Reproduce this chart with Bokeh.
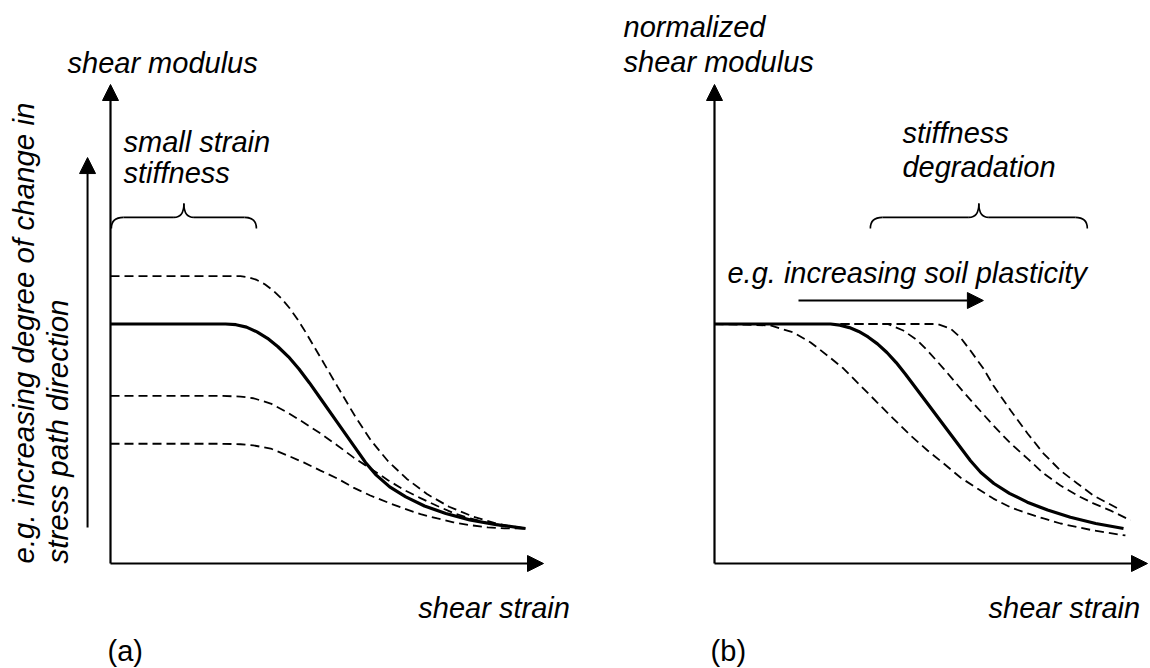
import math

from bokeh.embed import file_html
from bokeh.layouts import row
from bokeh.models import Arrow, Label, NormalHead, Range1d
from bokeh.plotting import figure
from bokeh.resources import INLINE

# ---------------------------------------------------------------------------
# Curve values (strain in arbitrary units 0..10, shear modulus normalised so
# that the reference curve starts at 1.0)
# ---------------------------------------------------------------------------

# (a) influence of the change in stress path direction
a_strain_ref = [0.000, 2.656, 2.898, 3.141, 3.383, 3.626, 3.868, 4.111, 4.353,
                4.596, 4.850, 5.242, 5.612, 5.889, 6.139, 6.448, 6.820, 7.252,
                7.744, 8.296, 8.910, 9.584]
a_G_ref = [1.000, 1.000, 0.997, 0.987, 0.967, 0.940, 0.905, 0.863, 0.812,
           0.754, 0.689, 0.588, 0.493, 0.422, 0.369, 0.320, 0.278, 0.240,
           0.209, 0.182, 0.162, 0.146]

a_strain_high = [0.000, 3.002, 3.189, 3.379, 3.564, 3.753, 3.938, 4.129, 4.314,
                 4.503, 4.850, 5.242, 5.658, 6.014, 6.406, 6.838, 7.309, 7.820,
                 8.370, 8.956, 9.584]
a_G_high = [1.200, 1.200, 1.195, 1.184, 1.166, 1.140, 1.108, 1.068, 1.021,
            0.967, 0.860, 0.739, 0.612, 0.514, 0.428, 0.354, 0.290, 0.237,
            0.196, 0.165, 0.146]

a_strain_mid = [0.00, 2.54, 3.00, 3.30, 3.70, 4.09, 4.46, 4.85, 5.24, 5.61,
                6.00, 6.40, 6.77, 7.16, 7.55, 7.92, 8.31, 8.71, 9.10, 9.58]
a_G_mid = [0.700, 0.700, 0.697, 0.690, 0.668, 0.630, 0.589, 0.543, 0.493,
           0.443, 0.397, 0.349, 0.308, 0.273, 0.240, 0.211, 0.188, 0.169,
           0.156, 0.146]

a_strain_low = [0.00, 2.54, 3.00, 3.30, 3.70, 4.09, 4.46, 4.85, 5.24, 5.61,
                6.00, 6.40, 6.77, 7.16, 7.55, 7.92, 8.31, 8.71, 9.10, 9.58]
a_G_low = [0.500, 0.500, 0.498, 0.493, 0.480, 0.451, 0.422, 0.388, 0.355,
           0.317, 0.284, 0.255, 0.230, 0.206, 0.188, 0.172, 0.160, 0.151,
           0.147, 0.146]

# (b) influence of soil plasticity
b_strain_ref = [0.000, 2.679, 2.896, 3.115, 3.330, 3.547, 3.764, 3.982, 4.196,
                4.411, 4.919, 5.404, 5.912, 6.152, 6.453, 6.811, 7.224, 7.693,
                8.219, 8.804, 9.446]
b_G_ref = [1.000, 1.000, 0.995, 0.985, 0.969, 0.946, 0.917, 0.881, 0.839,
           0.790, 0.668, 0.551, 0.429, 0.380, 0.334, 0.293, 0.256, 0.223,
           0.193, 0.167, 0.146]

b_strain_low = [0.00, 1.29, 1.82, 2.22, 2.61, 2.98, 3.37, 3.76, 4.13, 4.53,
                4.92, 5.29, 5.68, 6.07, 6.44, 6.84, 7.23, 7.60, 7.99, 8.75, 9.49]
b_G_low = [1.000, 0.994, 0.965, 0.923, 0.868, 0.814, 0.743, 0.672, 0.605,
           0.534, 0.472, 0.418, 0.359, 0.313, 0.271, 0.234, 0.209, 0.188,
           0.167, 0.138, 0.117]

b_strain_mid = [0.00, 4.00, 4.36, 4.69, 4.92, 5.29, 5.68, 6.07, 6.44, 6.84,
                7.23, 7.60, 7.99, 8.38, 8.75, 9.15, 9.61]
b_G_mid = [1.000, 1.000, 0.973, 0.931, 0.889, 0.814, 0.731, 0.651, 0.576,
           0.501, 0.438, 0.376, 0.326, 0.284, 0.251, 0.221, 0.180]

b_strain_high = [0.00, 5.15, 5.45, 5.68, 5.91, 6.21, 6.44, 6.84, 7.23, 7.60,
                 7.99, 8.38, 8.75, 9.31]
b_G_high = [1.000, 1.000, 0.981, 0.944, 0.889, 0.814, 0.743, 0.639, 0.543,
            0.459, 0.388, 0.334, 0.284, 0.230]

# axis extents
STRAIN_MAX = 10.0
G_MAX = 2.0

# ---------------------------------------------------------------------------
# Layout constants (pixels per data unit and panel geometry)
# ---------------------------------------------------------------------------
PX_X = 43.3     # px per strain unit
PX_Y = 239.5    # px per modulus unit
PANEL_W = 575
PANEL_H = 668
ORIGIN_Y = 563  # px from top of the page to the strain axis

FONT = "Liberation Sans"
FONT_SIZE = "29px"
DASH = "9 5"


def make_panel(origin_x):
    x0 = -origin_x / PX_X
    y0 = -(PANEL_H - ORIGIN_Y) / PX_Y
    p = figure(width=PANEL_W, height=PANEL_H,
               x_range=Range1d(x0, x0 + PANEL_W / PX_X),
               y_range=Range1d(y0, y0 + PANEL_H / PX_Y),
               x_axis_location=None, y_axis_location=None,
               toolbar_location=None, output_backend="svg",
               min_border=0, outline_line_color=None,
               background_fill_color="white", border_fill_color="white")
    p.grid.visible = False
    return p


def arrow(p, xs, ys, xe, ye, width=2.2):
    p.add_layout(Arrow(end=NormalHead(size=16, fill_color="black",
                                      line_color="black", line_width=1),
                       x_start=xs, y_start=ys, x_end=xe, y_end=ye,
                       line_color="black", line_width=width))


def label(p, x, y, text, italic=True, angle=0.0, size=FONT_SIZE):
    p.add_layout(Label(x=x, y=y, text=text, text_font=FONT,
                       text_font_size=size,
                       text_font_style="italic" if italic else "normal",
                       text_color="black", text_align="left",
                       text_baseline="alphabetic", angle=angle))


def brace(p, x_left, x_right, y_bar):
    end_dx, end_dy = 12 / PX_X, 11 / PX_Y
    tip_dx, tip_dy = 10 / PX_X, 14 / PX_Y
    xm = 0.5 * (x_left + x_right)
    kw = dict(line_color="black", line_width=1.6)
    # outer hooks
    p.quadratic(x0=[x_left, x_right], y0=[y_bar - end_dy] * 2,
                x1=[x_left + end_dx, x_right - end_dx], y1=[y_bar] * 2,
                cx=[x_left, x_right], cy=[y_bar] * 2, **kw)
    # straight runs
    p.segment(x0=[x_left + end_dx, xm + tip_dx], y0=[y_bar] * 2,
              x1=[xm - tip_dx, x_right - end_dx], y1=[y_bar] * 2, **kw)
    # central point
    p.quadratic(x0=[xm - tip_dx, xm + tip_dx], y0=[y_bar] * 2,
                x1=[xm, xm], y1=[y_bar + tip_dy] * 2,
                cx=[xm, xm], cy=[y_bar] * 2, **kw)


def axes(p):
    arrow(p, 0, 0, STRAIN_MAX, 0)
    arrow(p, 0, 0, 0, G_MAX)


# ---------------------------------------------------------------------------
# Panel (a)
# ---------------------------------------------------------------------------
pa = make_panel(110)
axes(pa)
for xs, ys in [(a_strain_high, a_G_high), (a_strain_mid, a_G_mid),
               (a_strain_low, a_G_low)]:
    pa.line(xs, ys, line_color="black", line_width=1.8, line_dash=DASH)
pa.line(a_strain_ref, a_G_ref, line_color="black", line_width=3.2,
        line_join="round")

arrow(pa, -0.53, 0.15, -0.53, 1.695, width=2.0)
label(pa, -2.02, 0.0, "e.g. increasing degree of change in",
      angle=math.pi / 2, size="29.5px")
label(pa, -1.23, 0.0, "stress path direction", angle=math.pi / 2,
      size="29.5px")

label(pa, -0.993, 2.088, "shear modulus")
label(pa, 0.30, 1.762, "small strain")
label(pa, 0.30, 1.629, "stiffness")
brace(pa, 0.02, 3.37, 1.445)
label(pa, 7.11, -0.184, "shear strain")
label(pa, -0.07, -0.367, "(a)", italic=False)

# ---------------------------------------------------------------------------
# Panel (b)
# ---------------------------------------------------------------------------
pb = make_panel(714 - PANEL_W)
axes(pb)
for xs, ys in [(b_strain_low, b_G_low), (b_strain_mid, b_G_mid),
               (b_strain_high, b_G_high)]:
    pb.line(xs, ys, line_color="black", line_width=1.8, line_dash=DASH)
pb.line(b_strain_ref, b_G_ref, line_color="black", line_width=3.2,
        line_join="round")

label(pb, -2.10, 2.238, "normalized")
label(pb, -2.10, 2.096, "shear modulus")
label(pb, 4.34, 1.796, "stiffness")
label(pb, 4.34, 1.654, "degradation")
brace(pb, 3.60, 8.61, 1.445)
label(pb, 0.30, 1.211, "e.g. increasing soil plasticity")
arrow(pb, 1.94, 1.098, 6.21, 1.098, width=2.0)
label(pb, 6.33, -0.184, "shear strain")
label(pb, -0.09, -0.367, "(b)", italic=False)

layout = row(pa, pb, spacing=0)
open("out.html", "w").write(file_html(layout, INLINE))
